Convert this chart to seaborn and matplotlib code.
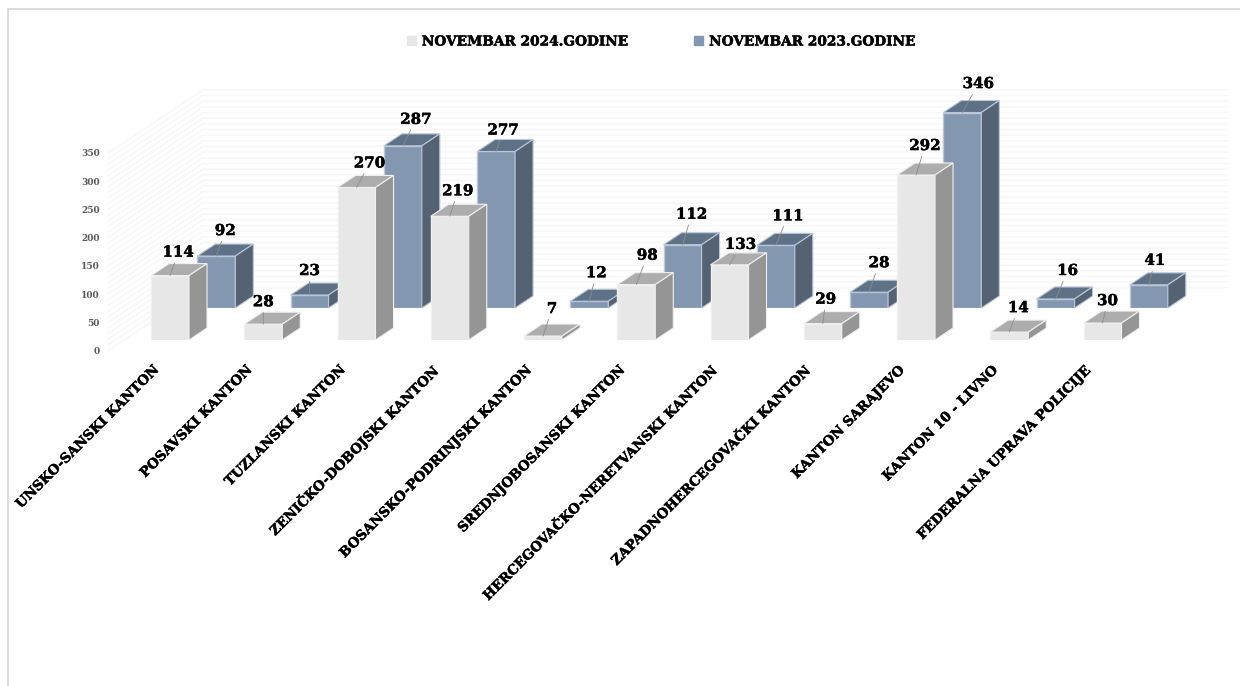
import matplotlib
matplotlib.use("Agg")
import matplotlib.pyplot as plt
import matplotlib.patheffects as pe
from matplotlib.patches import Patch, Polygon, Rectangle
from matplotlib.transforms import ScaledTranslation
import pandas as pd
import seaborn as sns

categories = ["UNSKO-SANSKI KANTON", "POSAVSKI KANTON", "TUZLANSKI KANTON",
              "ZENIČKO-DOBOJSKI KANTON", "BOSANSKO-PODRINJSKI KANTON",
              "SREDNJOBOSANSKI KANTON", "HERCEGOVAČKO-NERETVANSKI KANTON",
              "ZAPADNOHERCEGOVAČKI KANTON", "KANTON SARAJEVO",
              "KANTON 10 - LIVNO", "FEDERALNA UPRAVA POLICIJE"]
values_2024 = [114, 28, 270, 219, 7, 98, 133, 29, 292, 14, 30]
values_2023 = [92, 23, 287, 277, 12, 112, 111, 28, 346, 16, 41]
series_names = ["NOVEMBAR 2024.GODINE", "NOVEMBAR 2023.GODINE"]
y_ticks = [0, 50, 100, 150, 200, 250, 300, 350]
grid_values = list(range(0, 360, 10))

W, H = 1240, 686
SERIF = "DejaVu Serif"
PX_CAT = 93.25
PX_UNIT = 0.565
AX_W = PX_CAT * 11
AX_H = PX_UNIT * 350
HEAVY = [pe.withStroke(linewidth=0.35, foreground="black")]

sns.set_theme(style="white")
fig = plt.figure(figsize=(W / 100, H / 100), dpi=100, facecolor="white")


def make_axes(left, base, zorder):
    ax = fig.add_axes([left / W, 1 - base / H, AX_W / W, AX_H / H], zorder=zorder)
    ax.patch.set_alpha(0)
    return ax


fig.add_artist(Rectangle((8 / W, -1), 2, 1 + (H - 9) / H, transform=fig.transFigure,
                         fill=False, ec="#dcdcdc", lw=1.4))

ax_wall = make_axes(108, 350.7, 1)
ax_back = make_axes(123.4 + 46.3, 308, 2)
ax_front = make_axes(123.4, 340, 3)

ax_wall.set_xlim(-0.5, 10.5)
ax_wall.set_ylim(0, 350)
wall_dx = 95 / PX_CAT
wall_dy = 63 / (AX_H / 350)
for v in grid_values:
    ax_wall.plot([-0.5, -0.5 + wall_dx, 10.5 + wall_dx * 0.99],
                 [v, v + wall_dy, v + wall_dy], color="#f7f7f7", lw=1.1, clip_on=False)
ax_wall.set_xticks([])
ax_wall.set_yticks(y_ticks)
ax_wall.set_yticklabels([str(t) for t in y_ticks], fontsize=6.5, fontweight="bold",
                        family=SERIF, color="#595959")
ax_wall.tick_params(axis="y", length=0, pad=6)
sns.despine(ax=ax_wall, left=True, bottom=True)

df = pd.DataFrame({"kanton": categories, "y2024": values_2024, "y2023": values_2023})
BAR_W = 38 / PX_CAT
DX = 18 / PX_CAT
DY = 12 / PX_UNIT

off_front = [(8, 23), (0, 22), (13, 24), (8, 25), (9, 27), (11, 29), (11, 20),
             (3, 24), (9, 29), (9, 24), (5, 22)]
off_back = [(9, 25), (0, 24), (13, 26), (7, 21), (7, 28), (9, 30), (12, 29),
            (10, 29), (16, 28.5), (12, 28), (6, 24)]


def draw(ax, col, face, top, side, edge, offs):
    sns.barplot(data=df, x="kanton", y=col, ax=ax, color=face, saturation=1,
                width=BAR_W, edgecolor=edge, linewidth=1.0)
    ax.set_xlim(-0.5, 10.5)
    ax.set_ylim(0, 350)
    ax.set_xlabel("")
    ax.set_ylabel("")
    ax.set_yticks([])
    sns.despine(ax=ax, left=True, bottom=True)
    for bar, val, off in zip(ax.patches, df[col], offs):
        x0, x1 = bar.get_x(), bar.get_x() + bar.get_width()
        h = bar.get_height()
        ax.add_patch(Polygon([(x0, h), (x0 + DX, h + DY), (x1 + DX, h + DY), (x1, h)],
                             fc=top, ec=edge, lw=0.8, clip_on=False))
        ax.add_patch(Polygon([(x1, 0), (x1 + DX, DY), (x1 + DX, h + DY), (x1, h)],
                             fc=side, ec=edge, lw=0.8, clip_on=False))
        t = ax.annotate(str(val), xy=((x0 + x1) / 2, h), xytext=off,
                        textcoords="offset pixels", ha="center", va="center",
                        fontsize=10.8, fontweight="bold", family=SERIF, color="black",
                        annotation_clip=False,
                        arrowprops=dict(arrowstyle="-", color="#8c8c8c", lw=0.6,
                                        shrinkA=0, shrinkB=0))
        t.set_path_effects(HEAVY)


draw(ax_back, "y2023", "#8497B0", "#5F7186", "#556274", "#BCC8D8", off_back)
draw(ax_front, "y2024", "#E7E7E7", "#ADADAD", "#959595", "#F0F0F0", off_front)

ax_back.set_xticks([])
ax_front.tick_params(axis="x", length=0, pad=20)
shift = ScaledTranslation(-13 / 100, 0, fig.dpi_scale_trans)
ax_front.set_xticks(range(len(categories)))
ax_front.set_xticklabels(categories, rotation=45, ha="right", va="center",
                         rotation_mode="anchor", fontsize=9.7,
                         fontweight="bold", family=SERIF, color="black")
for lab in ax_front.get_xticklabels():
    lab.set_transform(lab.get_transform() + shift)
    lab.set_path_effects(HEAVY)

handles = [Patch(fc="#E7E7E7", ec="#E7E7E7"), Patch(fc="#8497B0", ec="#8497B0")]
leg = fig.legend(handles, series_names, loc="center", bbox_to_anchor=(661 / W, 1 - 41.5 / H),
                 ncol=2, frameon=False, handlelength=0.65, handleheight=0.65,
                 handletextpad=0.45, columnspacing=4.85,
                 prop=dict(family=SERIF, weight="bold", size=9.85), labelcolor="black")
for t in leg.get_texts():
    t.set_path_effects(HEAVY)

fig.savefig("out.png", dpi=100, facecolor="white")
